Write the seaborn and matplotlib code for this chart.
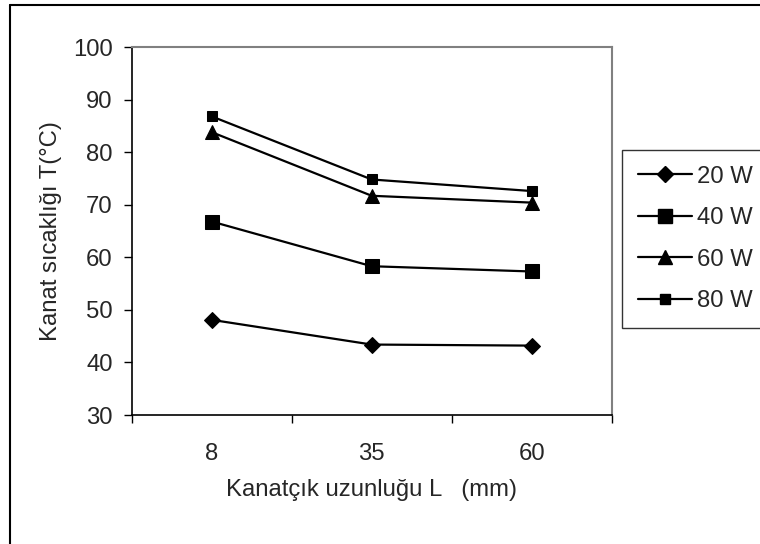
import matplotlib
matplotlib.use("Agg")
import matplotlib.pyplot as plt
from matplotlib.lines import Line2D
import seaborn as sns
import pandas as pd

categories = ["8", "35", "60"]
series_names = ["20 W", "40 W", "60 W", "80 W"]
t_20w = [48.1, 43.4, 43.2]
t_40w = [66.8, 58.3, 57.3]
t_60w = [83.8, 71.7, 70.4]
t_80w = [86.8, 74.8, 72.6]
y_ticks = [30, 40, 50, 60, 70, 80, 90, 100]

series_values = [t_20w, t_40w, t_60w, t_80w]
rows = []
for name, vals in zip(series_names, series_values):
    for i, (c, v) in enumerate(zip(categories, vals)):
        rows.append({"pos": i, "L": c, "T": v, "P": name})
df = pd.DataFrame(rows)

sns.set_theme(style="white")
plt.rcParams["font.family"] = ["Liberation Sans", "DejaVu Sans"]
FS = 17.2

fig = plt.figure(figsize=(7.6, 5.44), dpi=100)
ax = fig.add_axes([131.7 / 760, 129 / 544, 480 / 760, 368 / 544])

markers = {"20 W": "D", "40 W": "s", "60 W": "^", "80 W": "s"}
msizes = {"20 W": 8.5, "40 W": 10.5, "60 W": 10.5, "80 W": 7}

handles = []
for name in series_names:
    sub = df[df["P"] == name]
    sns.lineplot(data=sub, x="pos", y="T", ax=ax, color="black", lw=1.6,
                 marker=markers[name], markersize=msizes[name],
                 markeredgecolor="black", markerfacecolor="black", legend=False)
    handles.append(Line2D([0], [0], color="black", lw=1.6, marker=markers[name],
                          markersize=msizes[name], markerfacecolor="black",
                          markeredgecolor="black"))

ax.set_xlim(-0.5, len(categories) - 0.5)
ax.set_ylim(30, 100)
ax.set_yticks(y_ticks)
ax.set_yticklabels([str(t) for t in y_ticks], fontsize=FS)

# tick marks at category boundaries, labels at centers
ax.set_xticks([i - 0.5 for i in range(len(categories) + 1)])
ax.set_xticklabels([""] * (len(categories) + 1))
ax.set_xticks(list(range(len(categories))), minor=True)
ax.set_xticklabels(categories, minor=True, fontsize=FS)
ax.tick_params(axis="x", which="major", direction="out", length=5.8, width=1, color="black", bottom=True)
ax.tick_params(axis="x", which="minor", length=0, pad=20)
ax.tick_params(axis="y", direction="out", length=5.8, width=1, color="black", left=True, pad=8)

for s in ["left", "bottom"]:
    ax.spines[s].set_color("black")
    ax.spines[s].set_linewidth(1.2)
for s in ["top", "right"]:
    ax.spines[s].set_color("#808080")
    ax.spines[s].set_linewidth(1.5)

ax.set_xlabel("Kanatçık uzunluğu L   (mm)", fontsize=FS, labelpad=10)
ax.set_ylabel("Kanat sıcaklığı T(°C)", fontsize=FS, labelpad=8)

leg = fig.legend(handles, series_names, loc="upper left",
                 bbox_to_anchor=(622 / 760, 1 - 150 / 544), frameon=True,
                 fancybox=False, edgecolor="black", fontsize=FS,
                 handlelength=2.3, handletextpad=0.2, labelspacing=0.82,
                 borderpad=0.65, borderaxespad=0)
leg.get_frame().set_linewidth(1.0)

# outer chart border
fig.add_artist(Line2D([10 / 760, 10 / 760], [0, 1 - 5 / 544], color="black", lw=1.5,
                      transform=fig.transFigure))
fig.add_artist(Line2D([10 / 760, 1], [1 - 5 / 544, 1 - 5 / 544], color="black", lw=1.5,
                      transform=fig.transFigure))

fig.savefig("out.png", dpi=100, facecolor="white")
